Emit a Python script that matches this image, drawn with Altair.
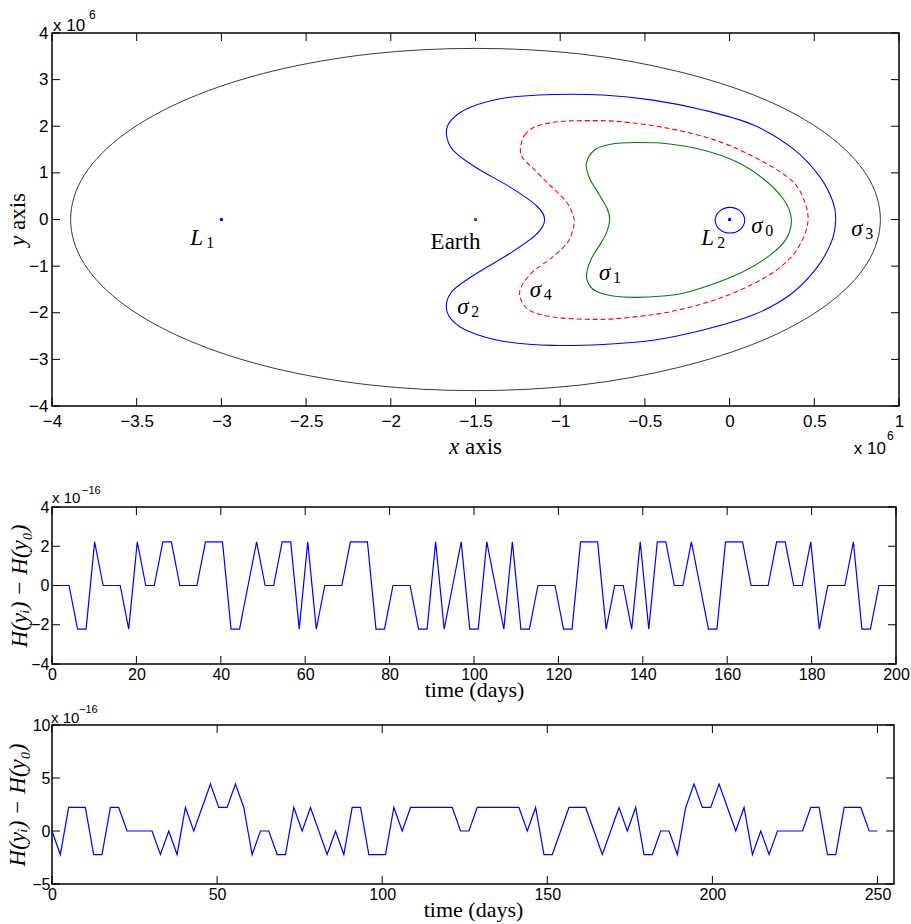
import altair as alt
import pandas as pd

# ---------------- top panel: level curves (units of 10^6) ----------------
s0_x = [0.089, 0.063, 0.002, -0.059, -0.085, -0.059, 0.002, 0.063]
s0_y = [-0.014, 0.18, 0.26, 0.18, -0.014, -0.21, -0.29, -0.21]

s1_x = [-0.846, -0.797, -0.708, -0.551, -0.354, -0.157, 0.040, 0.197, 0.315, 0.364,
        0.335, 0.237, 0.079, -0.118, -0.314, -0.551, -0.688, -0.787, -0.834, -0.844,
        -0.816, -0.767, -0.724, -0.708, -0.724, -0.767, -0.826]
s1_y = [1.20, 1.49, 1.61, 1.65, 1.62, 1.49, 1.24, 0.88, 0.45, 0.02,
        -0.41, -0.77, -1.12, -1.41, -1.61, -1.67, -1.64, -1.54, -1.37, -1.16,
        -0.84, -0.55, -0.26, 0.01, 0.24, 0.52, 0.88]

s2_x = [-1.672, -1.643, -1.534, -1.338, -1.043, -0.747, -0.452, -0.157, 0.138, 0.374,
        0.532, 0.610, 0.626, 0.601, 0.512, 0.355, 0.138, -0.157, -0.452, -0.747,
        -1.043, -1.338, -1.534, -1.643, -1.672, -1.633, -1.495, -1.298, -1.141, -1.092,
        -1.141, -1.298, -1.495, -1.633]
s2_y = [1.85, 2.13, 2.40, 2.60, 2.68, 2.67, 2.56, 2.35, 2.03, 1.52,
        0.92, 0.38, -0.01, -0.48, -1.05, -1.62, -2.05, -2.37, -2.59, -2.68,
        -2.70, -2.61, -2.41, -2.14, -1.84, -1.52, -1.16, -0.73, -0.32, 0.00,
        0.30, 0.70, 1.11, 1.49]

s3_x = [0.89, 0.81, 0.57, 0.19, -0.31, -0.88, -1.5, -2.12, -2.70, -3.19, -3.57, -3.81,
        -3.89, -3.81, -3.57, -3.19, -2.70, -2.12, -1.5, -0.88, -0.31, 0.19, 0.57, 0.81]
s3_y = [0.0, 0.95, 1.84, 2.60, 3.18, 3.55, 3.67, 3.55, 3.18, 2.60, 1.84, 0.95,
        0.0, -0.95, -1.84, -2.60, -3.18, -3.55, -3.67, -3.55, -3.18, -2.60, -1.84, -0.95]

s4_x = [-1.235, -1.210, -1.141, -1.003, -0.846, -0.649, -0.354, -0.059, 0.197, 0.374,
        0.443, 0.463, 0.433, 0.355, 0.197, -0.059, -0.354, -0.649, -0.846, -1.043,
        -1.180, -1.235, -1.229, -1.161, -1.043, -0.954, -0.919, -0.924, -0.964, -1.062,
        -1.161, -1.220]
s4_y = [1.52, 1.81, 2.00, 2.10, 2.12, 2.10, 1.95, 1.67, 1.24, 0.81,
        0.38, -0.01, -0.41, -0.84, -1.27, -1.69, -1.98, -2.12, -2.14, -2.09,
        -1.95, -1.69, -1.44, -1.12, -0.80, -0.48, -0.12, 0.09, 0.38, 0.74,
        1.10, 1.31]

dot_x = [-3.0, -1.5, 0.0]
dot_y = [0.0, 0.0, 0.0]
dot_color = ["#0000ff", "#008000", "#0000ff"]

lab_main = ["L", "L", "σ", "σ", "σ", "σ", "σ"]
lab_sub = ["1", "2", "0", "1", "2", "3", "4"]
lab_x = [-3.184, -0.167, 0.128, -0.771, -1.607, 0.718, -1.180]
lab_y = [-0.549, -0.549, -0.300, -1.300, -2.017, -0.352, -1.659]
earth_x = [-1.618]
earth_y = [-0.622]

top_xticks = [-4, -3.5, -3, -2.5, -2, -1.5, -1, -0.5, 0, 0.5, 1]
top_yticks = [-4, -3, -2, -1, 0, 1, 2, 3, 4]

# ---------------- middle panel: energy error, 200 days (units of 1e-16) ----------------
mid_days = [i * 200 / 99 for i in range(100)]
mid_h = [0, 0, 0, -2.22, -2.22, 2.22, 0, 0, 0, -2.22,
         2.22, 0, 0, 2.22, 2.22, 0, 0, 0, 2.22, 2.22,
         2.22, -2.22, -2.22, 0, 2.22, 0, 0, 2.22, 2.22, -2.22,
         2.22, -2.22, 0, 0, 0, 2.22, 2.22, 2.22, -2.22, -2.22,
         0, 0, 0, -2.22, -2.22, 2.22, -2.22, 0, 2.22, -2.22,
         -2.22, 2.22, 0, -2.22, 2.22, -2.22, -2.22, 0, 0, 0,
         -2.22, -2.22, 2.22, 2.22, 2.22, -2.22, 0, 0, -2.22, 2.22,
         -2.22, 2.22, 2.22, 0, 0, 2.22, 0, -2.22, -2.22, 2.22,
         2.22, 2.22, 0, 0, 0, 2.22, 2.22, 0, 0, 2.22,
         -2.22, 0, 0, 0, 2.22, -2.22, -2.22, 0, 0, 0]
mid_xticks = [0, 20, 40, 60, 80, 100, 120, 140, 160, 180, 200]
mid_yticks = [-4, -2, 0, 2, 4]

# ---------------- bottom panel: energy error, 250 days (units of 1e-16) ----------------
bot_days = [i * 250 / 99 for i in range(100)]
bot_h = [0, -2.22, 2.22, 2.22, 2.22, -2.22, -2.22, 2.22, 2.22, 0,
         0, 0, 0, -2.22, 0, -2.22, 2.22, 0, 2.22, 4.44,
         2.22, 2.22, 4.44, 2.22, -2.22, 0, 0, -2.22, -2.22, 2.22,
         0, 2.22, 0, -2.22, 0, -2.22, 2.22, 2.22, -2.22, -2.22,
         -2.22, 2.22, 0, 2.22, 2.22, 2.22, 2.22, 2.22, 2.22, 0,
         0, 2.22, 2.22, 2.22, 2.22, 2.22, 2.22, 0, 2.22, -2.22,
         -2.22, 0, 2.22, 2.22, 2.22, 0, -2.22, 0, 2.22, 0,
         2.22, -2.22, -2.22, 0, 0, -2.22, 2.22, 4.44, 2.22, 2.22,
         4.44, 2.22, 0, 2.22, -2.22, 0, -2.22, 0, 0, 0,
         0, 2.22, 2.22, -2.22, -2.22, 2.22, 2.22, 2.22, 0, 0]
bot_xticks = [0, 50, 100, 150, 200, 250]
bot_yticks = [-5, 0, 5, 10]

# ---------------- layout constants (pixels) ----------------
W1, H1 = 847, 373
W2, H2 = 844, 157
W3, H3 = 842, 159
TICK = 8
MINUS = "replace('' + datum.value, '-', '\u2212')"


def tick_layers(xvals, yvals, X, Y, W, H):
    """Inward tick marks on all four sides (MATLAB box style)."""
    xdf = pd.DataFrame({"v": xvals})
    ydf = pd.DataFrame({"v": yvals})
    bx = alt.Chart(xdf).mark_rule(color="black", strokeWidth=1).encode(
        x=X("v"), y=alt.value(H), y2=alt.value(H - TICK))
    tx = alt.Chart(xdf).mark_rule(color="black", strokeWidth=1).encode(
        x=X("v"), y=alt.value(0), y2=alt.value(TICK))
    ly = alt.Chart(ydf).mark_rule(color="black", strokeWidth=1).encode(
        y=Y("v"), x=alt.value(0), x2=alt.value(TICK))
    ry = alt.Chart(ydf).mark_rule(color="black", strokeWidth=1).encode(
        y=Y("v"), x=alt.value(W), x2=alt.value(W - TICK))
    return [bx, tx, ly, ry]


def txt(s, x, y, size, align="left"):
    return alt.Chart(pd.DataFrame({"s": [s]})).mark_text(
        align=align, baseline="alphabetic", font="Liberation Sans", fontSize=size, color="black"
    ).encode(x=alt.value(x), y=alt.value(y), text="s:N")


def serif(s, x, y, size, italic=False, angle=0):
    kw = dict(align="left", baseline="alphabetic", font="Liberation Serif", fontSize=size,
              color="black", fontStyle="italic" if italic else "normal")
    if angle:
        kw["angle"] = angle
    return alt.Chart(pd.DataFrame({"s": [s]})).mark_text(**kw).encode(
        x=alt.value(x), y=alt.value(y), text="s:N")


def bound_rule(left, top, bottom):
    return alt.Chart(pd.DataFrame({"a": [0]})).mark_rule(
        color="white", opacity=0.01, strokeWidth=0.5
    ).encode(x=alt.value(-left), y=alt.value(-top), y2=alt.value(bottom))


def make_xy(xdomain, ydomain, xaxis, yaxis):
    xs = alt.Scale(domain=xdomain, nice=False, zero=False)
    ys = alt.Scale(domain=ydomain, nice=False, zero=False)

    def X(f):
        return alt.X(f, type="quantitative", scale=xs, axis=xaxis)

    def Y(f):
        return alt.Y(f, type="quantitative", scale=ys, axis=yaxis)
    return X, Y


# ---------------- top chart ----------------
ax1x = alt.Axis(values=top_xticks, title=None, labelFontSize=17, labelPadding=7,
                labelExpr=MINUS)
ax1y = alt.Axis(values=top_yticks, title=None, labelFontSize=17, labelPadding=4,
                labelExpr=MINUS)
X1, Y1 = make_xy([-4, 1], [-4, 4], ax1x, ax1y)


def curve(cx, cy, color, width=1.1, dash=None):
    df = pd.DataFrame({"x": cx, "y": cy, "o": list(range(len(cx)))})
    kw = dict(color=color, strokeWidth=width, interpolate="cardinal-closed")
    if dash:
        kw["strokeDash"] = dash
    return alt.Chart(df).mark_line(**kw).encode(x=X1("x"), y=Y1("y"), order="o:Q")


c3 = curve(s3_x, s3_y, "#3a3a3a", 1.0)
c2 = curve(s2_x, s2_y, "#0000ff", 1.1)
c4 = curve(s4_x, s4_y, "#ff0000", 1.1, dash=[5, 3])
c1 = curve(s1_x, s1_y, "#008000", 1.1)
c0 = curve(s0_x, s0_y, "#0000ff", 1.1)

dots = alt.Chart(pd.DataFrame({"x": dot_x, "y": dot_y, "c": dot_color})).mark_circle(
    size=12, opacity=1).encode(x=X1("x"), y=Y1("y"), color=alt.Color("c:N", scale=None))

labdf = pd.DataFrame({"x": lab_x, "y": lab_y, "m": lab_main, "s": lab_sub})
lab_main_l = alt.Chart(labdf).mark_text(
    align="left", baseline="alphabetic", font="Liberation Serif", fontStyle="italic",
    fontSize=23, color="black").encode(x=X1("x"), y=Y1("y"), text="m:N")
lab_sub_L = alt.Chart(labdf).transform_filter("datum.m == 'L'").mark_text(
    align="left", baseline="alphabetic", font="Liberation Serif", fontSize=16,
    color="black", dx=16, dy=3).encode(x=X1("x"), y=Y1("y"), text="s:N")
lab_sub_s = alt.Chart(labdf).transform_filter("datum.m != 'L'").mark_text(
    align="left", baseline="alphabetic", font="Liberation Serif", fontSize=16,
    color="black", dx=14, dy=3).encode(x=X1("x"), y=Y1("y"), text="s:N")
earth = alt.Chart(pd.DataFrame({"x": earth_x, "y": earth_y, "t": ["Earth"]})).mark_text(
    align="center", baseline="alphabetic", font="Liberation Serif", fontSize=23,
    color="black").encode(x=X1("x"), y=Y1("y"), text="t:N")

top = alt.layer(
    c3, c2, c4, c1, c0, dots, lab_main_l, lab_sub_L, lab_sub_s, earth,
    *tick_layers(top_xticks, top_yticks, X1, Y1, W1, H1),
    # axis titles: italic variable + upright word, as in the LaTeX original
    serif("x", 397, H1 + 48, 23, italic=True), serif("axis", 413, H1 + 48, 23),
    serif("y", -27, 213, 23, italic=True, angle=270), serif("axis", -27, 197, 23, angle=270),
    txt("x 10", 1, -2, 17), txt("6", 37, -14, 12),
    txt("x 10", 834, H1 + 48, 17, align="right"), txt("6", 835, H1 + 34, 12),
    bound_rule(49, 32, H1 + 69),
).properties(width=W1, height=H1)

# ---------------- middle chart ----------------
ax2x = alt.Axis(values=mid_xticks, title="time (days)", labelFontSize=16, labelPadding=2,
                titleFontSize=22, titleY=32, titleBaseline="alphabetic", labelExpr=MINUS)
ax2y = alt.Axis(values=mid_yticks, title="H(yᵢ) − H(y₀)", labelFontSize=16, labelPadding=3,
                titleFontSize=23, titleFontStyle="italic", titleX=-33, titleBaseline="middle",
                labelExpr=MINUS)
X2, Y2 = make_xy([0, 200], [-4, 4], ax2x, ax2y)
line2 = alt.Chart(pd.DataFrame({"t": mid_days, "h": mid_h})).mark_line(
    color="#0000ff", strokeWidth=1.2).encode(x=X2("t"), y=Y2("h"))
mid = alt.layer(
    line2, *tick_layers(mid_xticks, mid_yticks, X2, Y2, W2, H2),
    txt("x 10", 0, -4, 15), txt("\u221216", 30, -13, 11),
    bound_rule(49, 30, H2 + 37),
).properties(width=W2, height=H2)

# ---------------- bottom chart ----------------
ax3x = alt.Axis(values=bot_xticks, title="time (days)", labelFontSize=16, labelPadding=2,
                titleFontSize=22, titleY=32, titleBaseline="alphabetic", labelExpr=MINUS)
ax3y = alt.Axis(values=bot_yticks, title="H(yᵢ) − H(y₀)", labelFontSize=16, labelPadding=2,
                titleFontSize=23, titleFontStyle="italic", titleX=-35, titleBaseline="middle",
                labelExpr=MINUS)
X3, Y3 = make_xy([0, 255], [-5, 10], ax3x, ax3y)
line3 = alt.Chart(pd.DataFrame({"t": bot_days, "h": bot_h})).mark_line(
    color="#0000ff", strokeWidth=1.2).encode(x=X3("t"), y=Y3("h"))
bot = alt.layer(
    line3, *tick_layers(bot_xticks, bot_yticks, X3, Y3, W3, H3),
    txt("x 10", -1, -2, 15), txt("\u221216", 27, -12, 11),
    bound_rule(51, 22, H3 + 40),
).properties(width=W3, height=H3)

chart = alt.vconcat(top, mid, bot, spacing=0, bounds="full").properties(
    padding=0, background="white"
).configure_view(
    stroke="black", strokeWidth=1.5
).configure_axis(
    grid=False, domain=False, ticks=True, tickSize=0, tickOpacity=0,
    labelFont="Liberation Sans", labelColor="black", labelFlush=False, labelOverlap=False,
    titleFont="Liberation Serif", titleFontWeight="normal", titleColor="black",
)

chart.save("out.html", embed_options={"renderer": "svg", "actions": False})
